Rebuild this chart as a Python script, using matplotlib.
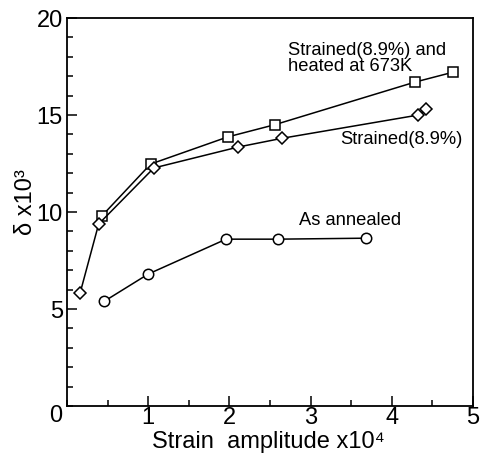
import matplotlib
matplotlib.use("Agg")
import matplotlib.pyplot as plt
from matplotlib.ticker import MultipleLocator

plt.rcParams['font.family'] = ['Liberation Sans', 'DejaVu Sans']

heated_x = [0.43, 1.03, 1.98, 2.56, 4.29, 4.75]
heated_y = [9.8, 12.47, 13.87, 14.5, 16.7, 17.2]
strained_x = [0.16, 0.39, 1.07, 2.11, 2.65, 4.33, 4.42]
strained_y = [5.8, 9.38, 12.27, 13.35, 13.8, 15.0, 15.3]
annealed_x = [0.46, 1.0, 1.96, 2.6, 3.68]
annealed_y = [5.4, 6.8, 8.6, 8.6, 8.65]

xticks = [1, 2, 3, 4, 5]
yticks = [5, 10, 15, 20]

fig = plt.figure(figsize=(4.82, 4.57), dpi=100)
ax = fig.add_axes([0.139, 0.1116, 0.842, 0.849])

kw = dict(color='black', lw=1.1, mfc='white', mec='black', mew=1.1)
ax.plot(heated_x, heated_y, marker='s', ms=6.8, **kw)
ax.plot(strained_x, strained_y, marker='D', ms=6.3, **kw)
ax.plot(annealed_x, annealed_y, marker='o', ms=7.5, **kw)

ax.set_xlim(0, 5)
ax.set_ylim(0, 20)
ax.xaxis.set_minor_locator(MultipleLocator(0.5))
ax.yaxis.set_minor_locator(MultipleLocator(1))
ax.set_xticks(xticks)
ax.set_xticklabels([str(v) for v in xticks])
ax.set_yticks(yticks)
ax.set_yticklabels([str(v) for v in yticks])
ax.tick_params(which='both', direction='in', top=False, right=False, width=1.1)
ax.tick_params(which='major', length=7, labelsize=17)
ax.tick_params(axis='x', which='major', pad=1)
ax.tick_params(axis='y', which='major', pad=3)
ax.tick_params(which='minor', length=4)
for s in ax.spines.values():
    s.set_linewidth(1.3)
fig.text(0.116, 0.09, '0', fontsize=17, ha='center', va='center')

ax.set_xlabel('Strain  amplitude x10⁴', fontsize=17)
ax.xaxis.set_label_coords(0.495, -0.064)
ax.set_ylabel('δ x10³', fontsize=17)
ax.yaxis.set_label_coords(-0.074, 0.525)

ax.text(2.72, 17.9, 'Strained(8.9%) and\nheated at 673K', fontsize=13.2,
        ha='left', va='center', linespacing=0.92)
ax.text(3.36, 13.75, 'Strained(8.9%)', fontsize=13.2, ha='left', va='center')
ax.text(2.86, 9.55, 'As annealed', fontsize=13.2, ha='left', va='center')

fig.savefig('out.png', dpi=100)
